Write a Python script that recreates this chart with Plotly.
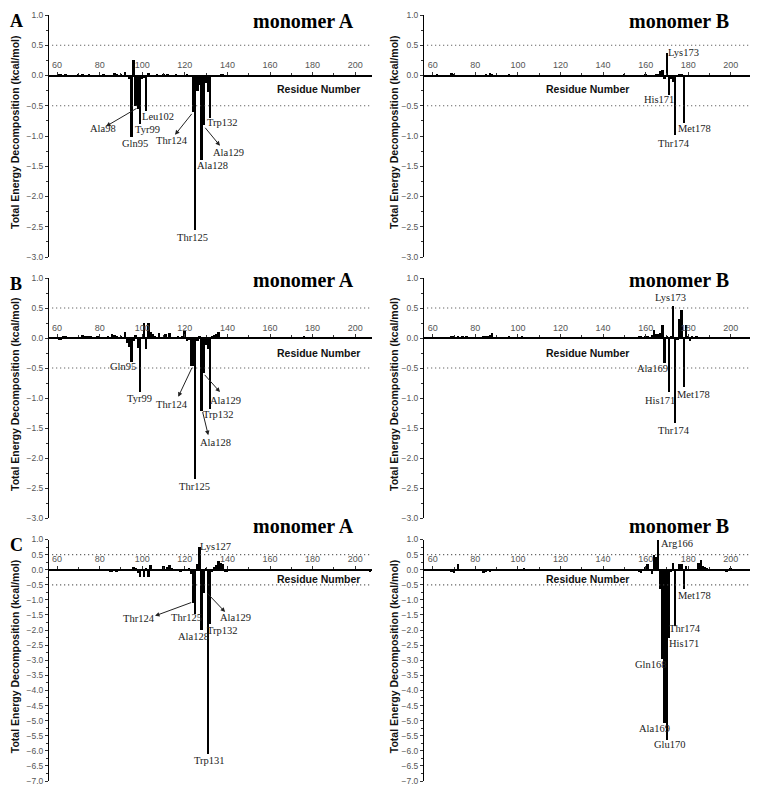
import plotly.graph_objects as go

W, H = 764, 798
OFF = 8                       # the page body adds an 8px margin around the figure
FW, FH = W - OFF, H - OFF

# ---- per-residue total energy decomposition (kcal/mol) ----
# row A, monomer A
res_a1 = [61, 62, 64, 70, 72, 75, 82, 87, 88, 90, 92, 93, 94, 95, 96, 97, 98, 99, 100, 101,
          102, 103, 107, 110, 112, 116, 121, 123, 124, 125, 126, 127, 128, 129, 130, 131, 132,
          133, 137, 138]
e_a1 = [0.02, 0.01, 0.01, 0.01, 0.01, 0.01, 0.01, 0.04, 0.02, 0.01, 0.05, -0.03, -0.05, -1.02,
        0.26, -0.50, -0.55, -0.80, -0.06, -0.04, -0.58, 0.04, 0.03, 0.02, 0.01, 0.01, 0.01,
        -0.02, -0.60, -2.55, -0.25, -0.15, -1.40, -0.82, -0.12, -0.28, -0.70, -0.03, 0.03, 0.02]
# row A, monomer B
res_a2 = [62, 69, 70, 72, 85, 87, 88, 96, 150, 160, 165, 166, 167, 168, 169, 170, 171, 172,
          173, 174, 176, 177, 178, 180]
e_a2 = [0.01, 0.04, 0.02, -0.01, 0.02, 0.04, 0.02, 0.03, 0.01, 0.01, 0.02, 0.02, 0.07, 0.09,
        -0.05, 0.38, -0.33, -0.05, -0.10, -0.99, 0.02, 0.03, -0.78, -0.02]
# row B, monomer A
res_b1 = [61, 62, 63, 64, 72, 73, 74, 75, 76, 79, 84, 86, 87, 88, 90, 92, 93, 94, 95, 96, 97,
          98, 99, 101, 102, 103, 104, 105, 106, 108, 111, 113, 117, 119, 120, 121, 122, 123,
          124, 125, 126, 127, 128, 129, 130, 131, 132, 133, 134, 135, 136, 176]
e_b1 = [-0.03, -0.02, 0.02, 0.02, 0.05, 0.04, 0.03, 0.03, 0.02, 0.02, 0.02, 0.06, 0.05, 0.03,
        0.02, 0.10, -0.08, -0.15, -0.40, -0.05, 0.05, -0.16, -0.90, 0.25, -0.19, 0.25, 0.10,
        0.06, 0.04, 0.08, 0.07, 0.08, 0.02, 0.04, 0.11, -0.05, -0.03, -0.47, -0.47, -2.35,
        -0.05, 0.04, -1.21, -0.58, -0.12, -0.18, -1.19, 0.02, 0.05, 0.06, 0.10, 0.03]
# row B, monomer B
res_b2 = [69, 70, 72, 74, 76, 84, 85, 86, 87, 88, 96, 102, 106, 150, 155, 157, 158, 160, 161,
          163, 164, 165, 166, 167, 168, 169, 170, 171, 172, 173, 174, 175, 176, 177, 178, 179,
          180, 181, 182, 184]
e_b2 = [0.03, 0.02, 0.02, 0.02, 0.02, 0.03, 0.03, 0.04, 0.05, 0.08, 0.03, 0.02, 0.01, 0.01,
        0.01, 0.02, 0.03, 0.02, 0.03, 0.05, 0.14, 0.06, 0.06, 0.08, 0.22, -0.42, 0.03, -0.90,
        0.02, 0.54, -1.42, -0.02, 0.32, 0.46, -0.82, 0.21, 0.02, -0.05, 0.02, 0.03]
# row C, monomer A
res_c1 = [61, 62, 63, 65, 72, 78, 85, 86, 88, 93, 95, 96, 97, 98, 99, 100, 101, 102, 103, 104,
          105, 107, 110, 112, 113, 114, 116, 118, 119, 121, 122, 123, 124, 125, 126, 127, 128,
          129, 130, 131, 132, 133, 134, 135, 136, 137, 138, 139, 140, 207]
e_c1 = [0.02, 0.01, -0.02, 0.01, 0.01, 0.01, -0.05, -0.05, -0.03, 0.03, 0.05, 0.11, 0.08,
        -0.10, -0.22, 0.02, -0.22, 0.08, -0.24, 0.16, 0.03, 0.05, 0.13, 0.12, 0.16, 0.08, 0.05,
        -0.03, -0.02, 0.05, 0.08, -0.12, -1.08, -1.45, 0.20, 0.76, -1.97, -0.74, 0.08, -6.10,
        -1.77, -0.05, 0.10, 0.18, 0.32, 0.25, 0.22, -0.05, -0.03, -0.05]
# row C, monomer B
res_c2 = [68, 69, 70, 72, 73, 84, 85, 87, 88, 90, 103, 107, 112, 152, 155, 157, 158, 160, 161,
          162, 163, 164, 165, 166, 167, 168, 169, 170, 171, 172, 173, 174, 175, 176, 177, 178,
          179, 180, 184, 185, 186, 187, 188, 189, 198, 199, 200, 201]
e_c2 = [0.02, -0.05, -0.09, 0.22, 0.02, -0.08, -0.05, -0.03, 0.03, 0.02, 0.06, 0.05, 0.01,
        0.01, -0.02, -0.05, -0.10, 0.10, 0.20, 0.05, -0.11, 0.50, 0.44, 0.99, -0.62, -2.95,
        -5.05, -5.62, -2.23, -0.05, 0.24, -1.84, -0.02, 0.19, 0.20, -0.63, 0.14, -0.02, 0.05,
        0.25, 0.33, 0.15, 0.12, 0.08, -0.05, 0.05, 0.08, 0.02]

x_ticks = [60, 80, 100, 120, 140, 160, 180, 200]

# ---- residue labels (text, x, y) and arrows (tail x, tail y, head x, head y) ----
lab_a1 = [("Gln95", 96.6, -1.12), ("Tyr99", 102.3, -0.89), ("Leu102", 107.4, -0.68),
          ("Ala98", 81.6, -0.88), ("Thr124", 114, -1.07), ("Thr125", 123.8, -2.68),
          ("Ala128", 132.8, -1.49), ("Ala129", 140.3, -1.27), ("Trp132", 137.5, -0.78)]
arr_a1 = [(98, -0.53, 83, -0.84), (123.8, -0.61, 115.4, -0.98), (129, -0.84, 136.5, -1.16)]
lab_a2 = [("Lys173", 177.8, 0.385), ("His171", 166.2, -0.40), ("Thr174", 173.3, -1.12),
          ("Met178", 182.7, -0.88)]
arr_a2 = []
lab_b1 = [("Gln95", 91, -0.48), ("Tyr99", 98.6, -1.01), ("Thr124", 114.1, -1.10),
          ("Thr125", 124.5, -2.48), ("Ala128", 134.2, -1.74), ("Ala129", 138.9, -1.04),
          ("Trp132", 135.7, -1.28)]
arr_b1 = [(123.7, -0.47, 116.9, -0.98), (128.2, -1.21, 131, -1.62), (128.7, -0.59, 136.5, -0.9)]
lab_b2 = [("Lys173", 171.5, 0.68), ("Ala169", 163, -0.51), ("His171", 166.9, -1.04),
          ("Met178", 182.5, -0.94), ("Thr174", 173.1, -1.54)]
arr_b2 = []
lab_c1 = [("Lys127", 134.2, 0.78), ("Thr124", 98.6, -1.62), ("Thr125", 120.9, -1.59),
          ("Ala128", 124, -2.2), ("Ala129", 143.9, -1.6), ("Trp132", 137.8, -2.0),
          ("Trp131", 131.8, -6.32)]
arr_c1 = [(123.7, -1.07, 106, -1.53), (130, -0.74, 138.9, -1.4)]
lab_c2 = [("Arg166", 174.7, 0.87), ("Met178", 183, -0.85), ("Thr174", 178.6, -1.95),
          ("His171", 177.8, -2.43), ("Gln168", 162.6, -3.14), ("Ala169", 164.2, -5.25),
          ("Glu170", 171.5, -5.79)]
arr_c2 = []

# ---- geometry (pixels in the page) ----
cols = [dict(dom=(49, 372), rng=(56.2, 207.9), ytitle_x=15, rn_x=318, mono_x=303),
        dict(dom=(424, 750), rng=(55.9, 209.0), ytitle_x=394, rn_x=587, mono_x=679)]
rows = [dict(top=15, bot=257, ymin=-3, letter="A", mono_y=21, rn_y=89),
        dict(top=278, bot=518, ymin=-3, letter="B", mono_y=280, rn_y=353),
        dict(top=539.5, bot=781, ymin=-7, letter="C", mono_y=526, rn_y=579)]


def px(x):
    return (x - OFF) / FW


def py(y):
    return 1 - (y - OFF) / FH


panels = [(0, 0, res_a1, e_a1, lab_a1, arr_a1), (0, 1, res_a2, e_a2, lab_a2, arr_a2),
          (1, 0, res_b1, e_b1, lab_b1, arr_b1), (1, 1, res_b2, e_b2, lab_b2, arr_b2),
          (2, 0, res_c1, e_c1, lab_c1, arr_c1), (2, 1, res_c2, e_c2, lab_c2, arr_c2)]

serif = "Liberation Serif"
sans = "Liberation Sans"

fig = go.Figure()
layout = {}
annotations = []
shapes = []

for i, (r, c, res, e, labs, arrs) in enumerate(panels, start=1):
    suf = "" if i == 1 else str(i)
    xid, yid = "x" + suf, "y" + suf
    col, row = cols[c], rows[r]
    ydom = (py(row["bot"]), py(row["top"]))
    xdom = (px(col["dom"][0]), px(col["dom"][1]))
    zero_px = row["top"] + (row["bot"] - row["top"]) / (1 - row["ymin"])

    fig.add_trace(go.Bar(x=res, y=e, xaxis=xid, yaxis=yid, width=0.9,
                         marker=dict(color="black", line=dict(width=0)),
                         showlegend=False, hoverinfo="x+y"))

    layout["xaxis" + suf] = dict(
        domain=xdom, range=list(col["rng"]), anchor="free", position=py(zero_px),
        side="top", showline=True, linecolor="black", linewidth=1.5,
        ticks="outside", ticklen=3, tickcolor="#333", tickvals=x_ticks,
        tickfont=dict(family=sans, size=9, color="#555"),
        minor=dict(ticks="outside", ticklen=2, dtick=10, tick0=0, tickcolor="#333"),
        showgrid=False, zeroline=False, fixedrange=True, automargin=False)
    layout["yaxis" + suf] = dict(
        domain=ydom, range=[row["ymin"], 1], anchor=xid,
        showline=True, linecolor="black", linewidth=1,
        ticks="outside", ticklen=3, tickcolor="#333", dtick=0.5, tick0=0, tickformat=".1f",
        tickfont=dict(family=sans, size=8.5, color="#555"),
        minor=dict(ticks="outside", ticklen=2, dtick=0.25, tickcolor="#333"),
        showgrid=False, zeroline=False, fixedrange=True, automargin=False)

    for yv in (0.5, -0.5):
        shapes.append(dict(type="line", xref=xid, yref=yid, x0=col["rng"][0] + 1.5,
                           x1=col["rng"][1], y0=yv, y1=yv,
                           line=dict(color="#444", width=1.2, dash="1px,3px")))

    for text, tx, ty in labs:
        annotations.append(dict(text=text, x=tx, y=ty, xref=xid, yref=yid, showarrow=False,
                                font=dict(family=serif, size=10.5, color="#222")))
    for x0, y0, x1, y1 in arrs:
        annotations.append(dict(text="", x=x1, y=y1, ax=x0, ay=y0, xref=xid, yref=yid,
                                axref=xid, ayref=yid, showarrow=True, arrowhead=2,
                                arrowsize=0.9, arrowwidth=1, arrowcolor="#222"))

    # axis captions
    annotations.append(dict(text="<b>Residue Number</b>", x=px(col["rn_x"]), y=py(row["rn_y"]),
                            xref="paper", yref="paper", showarrow=False,
                            font=dict(family=sans, size=10.5, color="#111"),
                            xanchor="center", yanchor="middle"))
    annotations.append(dict(text="<b>Total Energy Decomposition (kcal/mol)</b>",
                            x=px(col["ytitle_x"]),
                            y=py((row["top"] + row["bot"]) / 2 - 4),
                            xref="paper", yref="paper", showarrow=False, textangle=-90,
                            font=dict(family=sans, size=10.5, color="#111"),
                            xanchor="center", yanchor="middle"))
    annotations.append(dict(text="<b>monomer %s</b>" % ("A" if c == 0 else "B"),
                            x=px(col["mono_x"]), y=py(row["mono_y"]),
                            xref="paper", yref="paper", showarrow=False,
                            font=dict(family=serif, size=20, color="black"),
                            xanchor="center", yanchor="middle"))
    if c == 0:
        annotations.append(dict(text="<b>%s</b>" % row["letter"], x=px(16),
                                y=py(row["top"] - 6.5), xref="paper", yref="paper",
                                showarrow=False, font=dict(family=serif, size=18, color="black"),
                                xanchor="center", yanchor="top"))

fig.update_layout(**layout)
fig.update_layout(width=FW, height=FH,
                  margin=dict(l=0, r=0, t=0, b=0, pad=0, autoexpand=False),
                  plot_bgcolor="white", paper_bgcolor="white", bargap=0,
                  annotations=annotations, shapes=shapes)

fig.write_html("out.html")
